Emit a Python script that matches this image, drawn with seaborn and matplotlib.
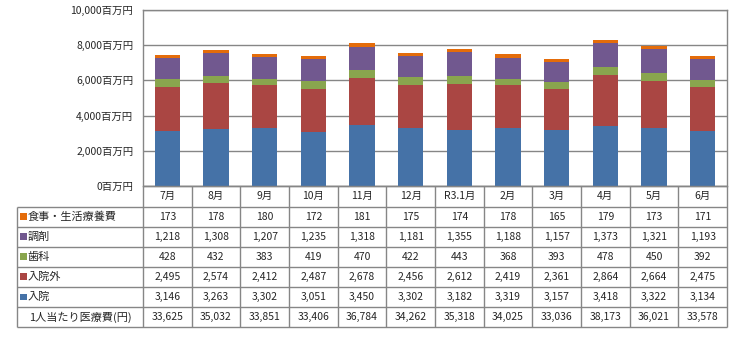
import matplotlib
matplotlib.use("Agg")
import matplotlib.pyplot as plt
import seaborn as sns
import numpy as np
import pandas as pd
from matplotlib.patches import Rectangle

sns.set_style("white")
plt.rcParams['font.family'] = ['Noto Sans CJK JP', 'DejaVu Sans']

months = ["7月", "8月", "9月", "10月", "11月", "12月", "R3.1月", "2月", "3月", "4月", "5月", "6月"]
nyuin = [3146, 3263, 3302, 3051, 3450, 3302, 3182, 3319, 3157, 3418, 3322, 3134]
gairai = [2495, 2574, 2412, 2487, 2678, 2456, 2612, 2419, 2361, 2864, 2664, 2475]
shika = [428, 432, 383, 419, 470, 422, 443, 368, 393, 478, 450, 392]
chozai = [1218, 1308, 1207, 1235, 1318, 1181, 1355, 1188, 1157, 1373, 1321, 1193]
shokuji = [173, 178, 180, 172, 181, 175, 174, 178, 165, 179, 173, 171]
per_capita = [33625, 35032, 33851, 33406, 36784, 34262, 35318, 34025, 33036, 38173, 36021, 33578]

series_names = ["入院", "入院外", "歯科", "調剤", "食事・生活療養費"]
series_vals = [nyuin, gairai, shika, chozai, shokuji]
colors = ["#4572A7", "#AA4643", "#89A54E", "#71588F", "#E46C0A"]
yticks = [0, 2000, 4000, 6000, 8000, 10000]

W, H = 734, 341
fig = plt.figure(figsize=(W / 100, H / 100), dpi=100)

L, R, T, B = 143, 727, 10, 186
ax = fig.add_axes([L / W, 1 - B / H, (R - L) / W, (B - T) / H])

cum = np.zeros(len(months))
cums = []
for v in series_vals:
    cum = cum + np.array(v)
    cums.append(cum.copy())
# draw from the top cumulative down so each visible segment shows its series
for name, c, col in reversed(list(zip(series_names, cums, colors))):
    d = pd.DataFrame({"month": months, "val": c})
    sns.barplot(data=d, x="month", y="val", color=col, width=0.52,
                saturation=1, ax=ax, zorder=3, linewidth=0)

ax.set_xlim(-0.5, len(months) - 0.5)
ax.set_ylim(0, 10000)
ax.set_yticks(yticks)
ax.set_yticklabels([f"{t:,}百万円" for t in yticks], fontsize=7.5)
ax.tick_params(axis="y", length=0, pad=7)
ax.set_xticks([])
ax.set_xlabel("")
ax.set_ylabel("")
ax.grid(axis="y", color="#868686", linewidth=1, zorder=0)
for s in ax.spines.values():
    s.set_color("#868686")
    s.set_linewidth(1)

# table region in pixel coordinates
tax = fig.add_axes([0, 0, 1, 1])
tax.set_xlim(0, W)
tax.set_ylim(H, 0)
tax.axis("off")
gc = "#868686"
TL = 17
rows_y = [186, 206.7, 226.7, 246.7, 266.7, 286.7, 307.3, 327.3]
colw = (R - L) / len(months)
col_x = [L + i * colw for i in range(len(months) + 1)]

for i, y in enumerate(rows_y):
    x0 = L if i == 0 else TL
    tax.plot([x0, R], [y, y], color=gc, lw=1, solid_capstyle="butt")
for x in col_x:
    tax.plot([x, x], [rows_y[0], rows_y[-1]], color=gc, lw=1, solid_capstyle="butt")
tax.plot([TL, TL], [rows_y[1], rows_y[-1]], color=gc, lw=1, solid_capstyle="butt")

for i, m in enumerate(months):
    tax.text(L + (i + 0.5) * colw, (rows_y[0] + rows_y[1]) / 2, m, ha="center", va="center", fontsize=7.5)

table_rows = list(reversed(list(zip(series_names, series_vals, colors))))
for r, (name, vals, col) in enumerate(table_rows):
    y0, y1 = rows_y[r + 1], rows_y[r + 2]
    yc = (y0 + y1) / 2
    tax.add_patch(Rectangle((20, yc - 3.3), 6.5, 6.5, color=col, lw=0))
    tax.text(27.5, yc, name, ha="left", va="center", fontsize=8)
    for i, v in enumerate(vals):
        tax.text(L + (i + 0.5) * colw, yc, f"{v:,}", ha="center", va="center", fontsize=7.5)

yc = (rows_y[6] + rows_y[7]) / 2
tax.text(29, yc, "1人当たり医療費(円)", ha="left", va="center", fontsize=8)
for i, v in enumerate(per_capita):
    tax.text(L + (i + 0.5) * colw, yc, f"{v:,}", ha="center", va="center", fontsize=7.5)

fig.savefig("out.png", dpi=100)
